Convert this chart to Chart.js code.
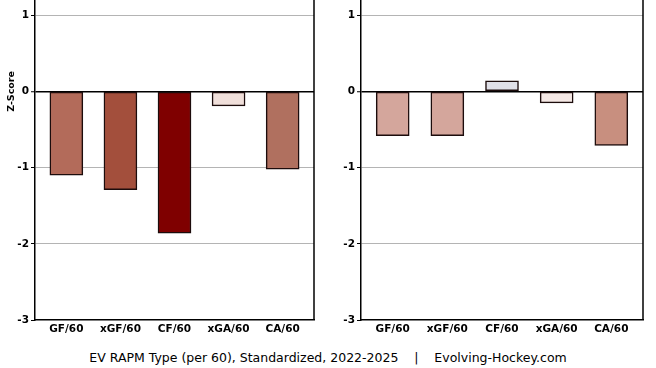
<!DOCTYPE html>
<html>
<head>
<meta charset="utf-8">
<script src="https://cdn.jsdelivr.net/npm/chart.js@4.4.0/dist/chart.umd.min.js"></script>
<style>
body { margin: 0; width: 656px; height: 368px; background: #fff; position: relative; overflow: hidden; font-family: "DejaVu Sans", sans-serif; }
.panel { position: absolute; top: 0; width: 330px; height: 345px; }
#left { left: 0; }
#right { left: 326px; }
#caption { position: absolute; left: 0; width: 656px; top: 349px; text-align: center; font-size: 12.5px; white-space: pre; line-height: 18px; color: #000; }
</style>
</head>
<body>
<div class="panel" id="left"><canvas id="c1" width="330" height="345"></canvas></div>
<div class="panel" id="right"><canvas id="c2" width="330" height="345"></canvas></div>
<div id="caption">EV RAPM Type (per 60), Standardized, 2022-2025    |    Evolving-Hockey.com</div>
<script>
// Chart data
const categories = ['GF/60', 'xGF/60', 'CF/60', 'xGA/60', 'CA/60'];
const leftValues = [-1.10, -1.29, -1.86, -0.19, -1.02];
const rightValues = [-0.58, -0.58, 0.14, -0.15, -0.71];
const leftColors = ['#b36b5a', '#a34f3c', '#7f0000', '#f0dfda', '#b0705f'];
const rightColors = ['#d4a69c', '#d4a69c', '#e0e0e8', '#f5e8e5', '#c88f7f'];
const yTicks = [-3, -2, -1, 0, 1];

Chart.defaults.font.family = '"DejaVu Sans", sans-serif';
Chart.defaults.color = '#000';

// draws right frame line and the y label
const framePlugin = {
    id: 'frame',
    afterDraw(chart, args, opts) {
        const ctx = chart.ctx;
        const a = chart.chartArea;
        ctx.save();
        ctx.strokeStyle = '#000';
        ctx.lineWidth = 1.5;
        ctx.beginPath();
        ctx.moveTo(a.right, a.top);
        ctx.lineTo(a.right, a.bottom);
        ctx.stroke();
        if (opts.label) {
            const y0 = chart.scales.y.getPixelForValue(0);
            ctx.translate(11.5, y0);
            ctx.rotate(-Math.PI / 2);
            ctx.font = 'bold 9.5px "DejaVu Sans"';
            ctx.fillStyle = '#000';
            ctx.textAlign = 'center';
            ctx.textBaseline = 'middle';
            ctx.fillText(opts.label, 0, 0);
        }
        ctx.restore();
    }
};

function makeChart(id, values, colors, label, rightPad) {
    new Chart(document.getElementById(id), {
        type: 'bar',
        data: {
            datasets: [{
                data: values.map((v, i) => ({ x: i, y: v })),
                backgroundColor: colors,
                borderColor: '#1c0c0c',
                borderWidth: 1.5,
                borderSkipped: false,
                barThickness: 33
            }]
        },
        options: {
            responsive: false,
            animation: false,
            layout: { padding: { left: 0, right: rightPad, top: 0, bottom: 0 } },
            plugins: {
                legend: { display: false },
                tooltip: { enabled: false },
                frame: { label: label }
            },
            scales: {
                x: {
                    type: 'linear',
                    min: -0.58,
                    max: 4.58,
                    offset: false,
                    grid: { display: false, offset: false, drawTicks: false, tickLength: 0 },
                    border: { display: true, color: '#000', width: 1.5 },
                    afterBuildTicks: s => { s.ticks = categories.map((c, i) => ({ value: i })); },
                    afterFit: s => { s.height = 25; s.paddingLeft = 0; s.paddingRight = 0; },
                    ticks: {
                        autoSkip: false,
                        maxRotation: 0,
                        padding: 3,
                        font: { size: 10.5, weight: 'bold' },
                        callback: v => categories[v]
                    }
                },
                y: {
                    min: -3,
                    max: 1.2,
                    border: { display: true, color: '#000', width: 1.5 },
                    afterBuildTicks: s => { s.ticks = yTicks.map(v => ({ value: v })); },
                    afterFit: s => { s.width = 35; s.paddingTop = 0; s.paddingBottom = 0; },
                    grid: {
                        color: c => c.tick.value === 0 ? '#000' : (c.tick.value === -3 ? 'rgba(0,0,0,0)' : '#b4b4b4'),
                        lineWidth: c => c.tick.value === 0 ? 1.5 : 1,
                        tickColor: '#000',
                        tickLength: 4,
                        tickWidth: 1
                    },
                    ticks: {
                        padding: 2,
                        font: { size: 10.5, weight: 'bold' },
                        callback: v => String(v)
                    }
                }
            }
        },
        plugins: [framePlugin]
    });
}

makeChart('c1', leftValues, leftColors, 'Z-Score', 16);
makeChart('c2', rightValues, rightColors, null, 13);
</script>
</body>
</html>
